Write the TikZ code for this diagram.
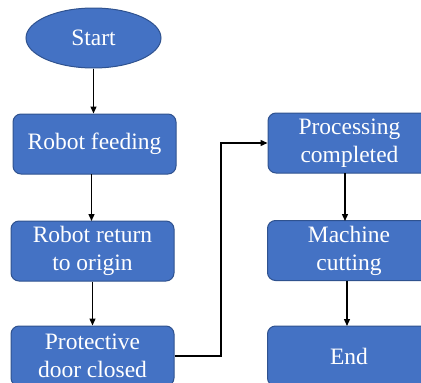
\documentclass[tikz,border=0pt]{standalone}
\usepackage{fontspec}
\setmainfont{Liberation Serif}
\newfontfamily\tnrfont{Liberation Serif}
\usetikzlibrary{arrows.meta,shapes.geometric}
\definecolor{boxfill}{HTML}{4472C4}
\definecolor{boxline}{HTML}{2F528F}
\begin{document}
\begin{tikzpicture}[x=1pt,y=-1pt,
  base/.style={fill=boxfill,draw=boxline,line width=1pt,text=white,
    font=\tnrfont\fontsize{23.5}{28}\selectfont,align=center,inner sep=0pt},
  stepbox/.style={base,rectangle,rounded corners=8pt,minimum width=163pt,minimum height=60pt},
  term/.style={base,ellipse,minimum width=135pt,minimum height=60pt},
  arr/.style={draw=black,line width=1.4pt,-{Triangle[length=7pt,width=6pt]}}]
\useasboundingbox (0,0) rectangle (421,383);
\node[term] (start) at (93.5,38) {Start};
\node[stepbox] (feed) at (94.5,144) {Robot feeding};
\node[stepbox] (ret) at (92.5,251) {Robot return\\to origin};
\node[stepbox] (prot) at (92.5,356) {Protective\\door closed};
\node[stepbox] (proc) at (349.5,143) {Processing\\completed};
\node[stepbox] (mach) at (349,250.5) {Machine\\cutting};
\node[stepbox] (end) at (349,356) {End};
\coordinate (bend) at (221,356);
\draw[arr] (start.south) -- (start.south |- feed.north);
\draw[arr] (91.5,174) -- (91.5,221);
\draw[arr] (ret.south) -- (prot.north);
\draw[arr] (prot.east) -- (bend) |- (proc.west);
\draw[arr] (345,173) -- (345,221);
\draw[arr] (347,280.5) -- (347,326);
\end{tikzpicture}
\end{document}
